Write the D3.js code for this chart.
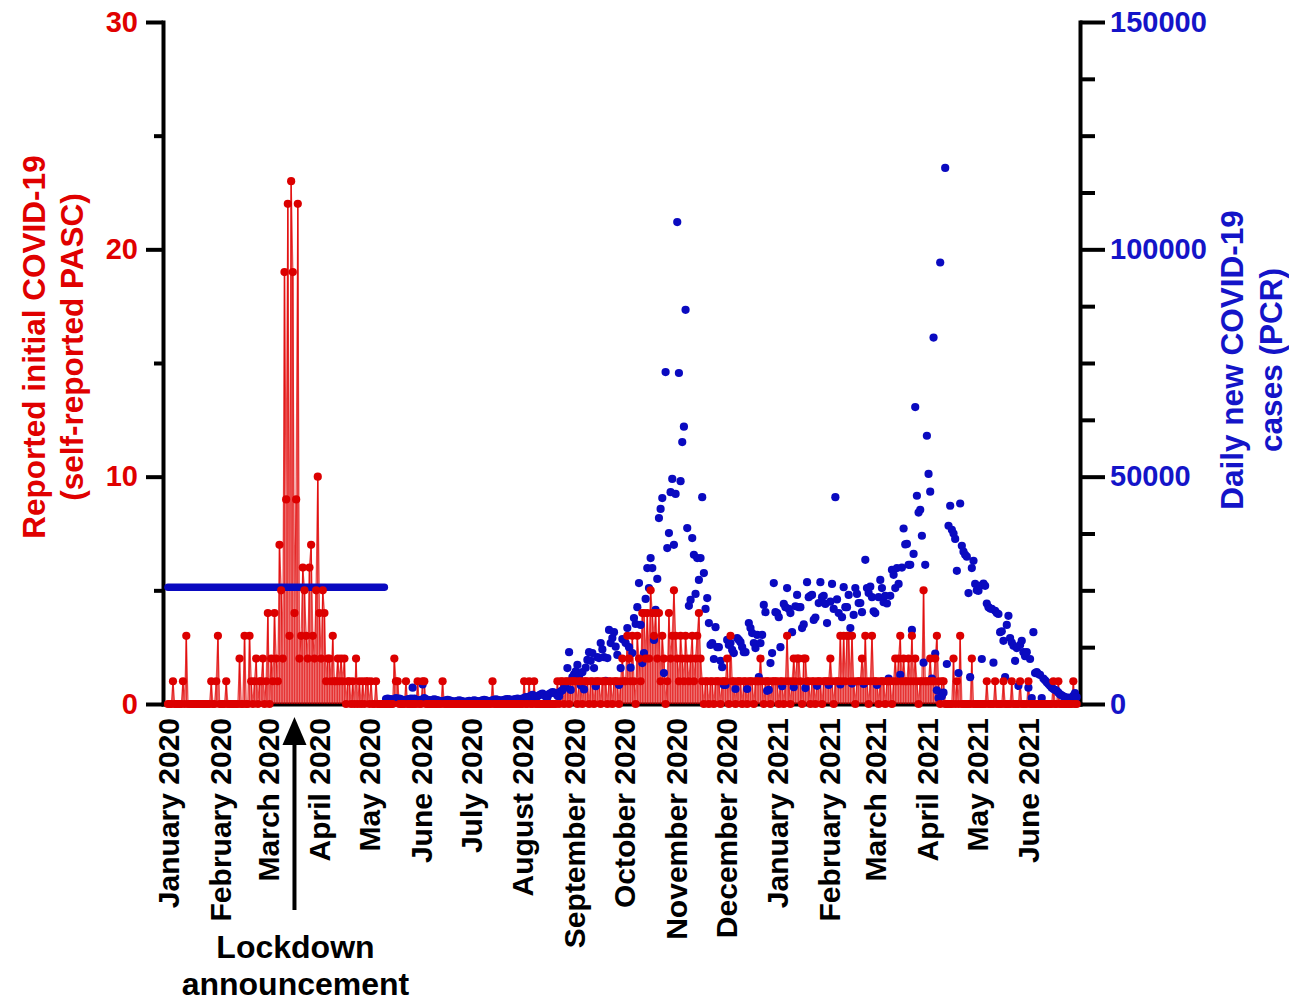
<!DOCTYPE html>
<html>
<head>
<meta charset="utf-8">
<script src="https://cdn.jsdelivr.net/npm/d3@7/dist/d3.min.js"></script>
<style>
  body { margin: 0; background: #fff; }
  text { font-family: "Liberation Sans", Arial, sans-serif; font-weight: bold; }
</style>
</head>
<body>
<div id="chart"></div>
<script>
// labels under the x axis, one per month
var monthLabels = ['January 2020', 'February 2020', 'March 2020', 'April 2020', 'May 2020',
  'June 2020', 'July 2020', 'August 2020', 'September 2020', 'October 2020', 'November 2020',
  'December 2020', 'January 2021', 'February 2021', 'March 2021', 'April 2021', 'May 2021', 'June 2021'];

var leftTicks = [0, 10, 20, 30];
var leftMinor = [5, 15, 25];
var rightTicks = [0, 50000, 100000, 150000];
var rightMinor = [12500, 25000, 37500, 62500, 75000, 87500, 112500, 125000, 137500];

// self-reported initial COVID-19 per day, one row per month from 1 Jan 2020
var redDaily = [
  [0,0,0,1,0, 0,0,0,0,1, 0,3,0,0,0, 0,0,0,0,0, 0,0,0,0,0, 0,1,0,0,1, 3],
  [0,0,0,0,1, 0,0,0,0,0, 0,0,2,0,0, 3,0,0,3,1, 0,1,2,0,1, 1,2,0,1],
  [4,0,2,1,4, 2,1,7,5,2, 19,9,22,3,23, 19,4,9,22,2, 3,6,5,3,2, 6,7,3,2,5, 10],
  [4,2,5,4,1, 2,2,1,3,1, 1,2,1,2,1, 2,0,1,1,0, 1,0,2,0,1, 0,1,0,1,1],
  [0,1,0,0,1, 0,0,0,0,0, 0,0,0,0,0, 2,1,1,0,0, 0,0,1,0,0, 0,0,0,0,1, 0],
  [0,1,1,0,0, 0,0,0,0,0, 0,0,0,1,0, 0,0,0,0,0, 0,0,0,0,0, 0,0,0,0,0],
  [0,0,0,0,0, 0,0,0,0,0, 0,0,0,1,0, 0,0,0,0,0, 0,0,0,0,0, 0,0,0,0,0, 0],
  [0,1,0,0,1, 0,0,1,0,0, 0,0,0,0,0, 0,0,0,0,0, 0,1,0,1,1, 0,1,1,0,1, 1],
  [1,1,0,1,1, 0,1,1,1,0, 1,1,0,1,1, 1,0,1,1,1, 0,1,1,0,1, 1,1,0,1,2],
  [1,1,3,2,1, 3,1,0,3,2, 1,4,4,2,4, 2,5,4,3,4, 2,4,1,3,2, 0,1,4,2,3, 5],
  [3,2,1,3,2, 1,3,2,1,2, 3,1,2,3,4, 2,1,0,1,1, 0,1,1,0,1, 1,1,0,1,1],
  [1,2,0,3,1, 1,0,1,1,1, 0,1,1,0,1, 1,1,0,1,1, 1,2,1,0,1, 1,1,0,1,1, 1],
  [1,0,1,1,0, 1,3,1,0,1, 2,1,2,2,1, 0,2,2,1,1, 0,1,1,0,1, 1,1,0,1,1, 1],
  [1,2,1,0,1, 1,1,3,1,3, 1,3,3,1,3, 1,0,1,1,1, 2,1,3,1,0, 1,3,1],
  [1,1,0,1,1, 1,0,1,1,1, 0,1,2,1,2, 3,1,2,1,1, 2,1,3,1,2, 1,0,1,1,5, 1],
  [1,1,2,1,1, 2,3,1,0,1, 1,0,0,0,0, 0,2,0,1,0, 3,0,0,0,0, 0,0,2,0,0],
  [0,0,0,0,0, 0,1,0,0,0, 0,1,0,0,0, 0,1,0,0,0, 0,1,0,0,0, 0,1,0,0,0, 0],
  [1,0,0,0,0, 0,0,0,0,0, 0,0,0,0,0, 1,0,0,1,0, 0,0,0,0,0, 0,0,1,0,0]
];

// daily new PCR cases, one row per month from 11 May 2020
var blueFirstDay = '2020-05-11';
var blueDaily = [
  [1100,1200,1000,1100,900, 800,1300,1100,1200,1000, 900,800,700,1000,1100, 1200,3600,1200,900,800, 700],
  [900,4300,1300,1000,900, 800,700,900,1000,900, 800,700,600,600,700, 800,900,800,700,600, 500,600,700,800,700, 600,500,500,600,700],
  [600,700,800,700,600, 500,700,800,900,800, 700,600,700,800,900, 1000,900,800,700,800, 900,1000,1100,1000,900, 800,1000,1100,1200,1100, 1000],
  [1200,1300,1500,1400,1600, 1800,2000,1500,1300,1700, 1900,2100,2300,2000,1600, 1500,2200,2400,2600,2500, 2300,1800,1700,2800,3000, 3500,4200,7900,11400,3100, 5900],
  [6500,7200,8600,6000,4100, 7000,3200,8000,9700,11400, 9500,11200,7900,3900,10300, 10100,13400,12000,10300,5100, 10100,16300,13400,14500,15800, 12600,10800,4200,7900,14300],
  [14100,13400,16700,12500,8000, 11200,18900,17600,21300,26600, 17400,9000,11200,23100,29900, 25500,32100,29900,14100,20700, 27500,40900,42900,45300,6800, 73000,34300,37600,46600,49500, 35000],
  [46200,106000,72800,49000,57600, 61000,86700,38700,21600,22900, 36500,32800,24200,32100,27300, 32100,45500,28800,20900,23300, 17800,13000,13400,9900,16900, 12500,12500,9500,8100,4200],
  [4200,14100,13000,13400,11900, 11200,3300,14500,14100,13600, 12500,11400,11400,3300,17800, 16700,15600,13400,12300,15200, 5900,13400,15200,21800,20200, 2900,3100,9000,11200,26600, 20200],
  [20000,19100,12500,3900,22000, 21300,25500,20900,20000,15800, 3700,21500,24000,21300,21300, 16700,17500,3500,26800,23500, 23800,24000,18500,19000,4000, 22200,26800,23500,23800,22000, 17800],
  [4200,22500,26400,20900,45500, 23000,20000,4300,19100,25700, 21300,21300,24000,16700,4500, 19600,25500,24200,22200,22200, 20200,4400,31700,25500,24400, 25800,23500,20400],
  [20000,4200,23500,27300,25500, 22400,23800,22100,5600,23800, 29500,28400,25500,29900,26400, 6400,30000,38600,35100,35200, 30600,30600,16300,33000,65300, 45800,42100,42700,37000,9100, 30600],
  [59000,50600,46700,5600,80600, 11100,3000,1300,97100,1700, 2500,117900,8800,39200,43600, 38300,37500,36300,29300,6800, 44100,34800,33500,32800,32400, 24400,5900,29900,31500,26400],
  [25000,24900,26000,9900,26500, 26000,22100,21300,21000,20900, 9100,20500,20000,19800,15800, 16000,13900,5900,17400,19400, 14500,13500,12800,9500,12300, 4000,13000,13900,11400,10500, 11400],
  [3600,9900,1300,15800,6800, 7000,6600,6400,1300,5600, 5200,4800,4400,4000,3600, 3300,3100,2900,2500,2100, 1900,1700,1500,1300,1400, 1200,1300,1800,2400,1500]
];

// flat PCR level shown before daily figures begin
var blueFlatDates = ['2020-01-01', '2020-05-10'];
var blueFlatValue = 25700;

var lockdownDate = '2020-03-17';

// Base
var width = 1289, height = 1003;
var plot = {left: 163, right: 1080, top: 22, bottom: 704};
var redColor = '#e00000', blueColor = '#1414c8';
var redDot = '#dc0000', blueDot = '#0a0ac0';
var dotR = 4.1;

var parse = d3.utcParse('%Y-%m-%d');

var svg = d3.select('#chart').append('svg')
    .attr('width', width)
    .attr('height', height)
    .style('background', '#fff');

var x = d3.scaleUtc()
    .domain([new Date(Date.UTC(2019, 11, 29)), new Date(Date.UTC(2021, 6, 2))])
    .range([plot.left, plot.right]);
var yLeft = d3.scaleLinear().domain([0, 30]).range([plot.bottom, plot.top]);
var yRight = d3.scaleLinear().domain([0, 150000]).range([plot.bottom, plot.top]);

var day0 = parse('2020-01-01');
var red = d3.merge(redDaily).map(function(v, i) {
  return {date: d3.utcDay.offset(day0, i), value: v};
});
var blueDay0 = parse(blueFirstDay);
var blue = d3.merge(blueDaily).map(function(v, i) {
  return {date: d3.utcDay.offset(blueDay0, i), value: v};
});
var monthStarts = d3.utcMonth.range(parse('2020-01-01'), parse('2021-07-01'));

function styleAxis(g, textColor) {
  g.attr('font-family', '"Liberation Sans", Arial, sans-serif')
   .attr('font-weight', 'bold')
   .attr('font-size', 29);
  g.select('.domain').attr('stroke', '#000').attr('stroke-width', 4).attr('stroke-linecap', 'square');
  g.selectAll('.tick line').attr('stroke', '#000').attr('stroke-width', 4);
  g.selectAll('.tick text').attr('fill', textColor);
}

// axes
svg.append('g')
    .attr('transform', 'translate(' + plot.left + ',0)')
    .call(d3.axisLeft(yLeft).tickValues(leftMinor).tickSize(9).tickSizeOuter(0).tickFormat(''))
    .call(function(g) { styleAxis(g, redColor); g.select('.domain').remove(); });
svg.append('g')
    .attr('transform', 'translate(' + plot.left + ',0)')
    .call(d3.axisLeft(yLeft).tickValues(leftTicks).tickSize(17).tickPadding(8).tickSizeOuter(0))
    .call(function(g) { styleAxis(g, redColor); });

svg.append('g')
    .attr('transform', 'translate(' + plot.right + ',0)')
    .call(d3.axisRight(yRight).tickValues(rightMinor).tickSize(15).tickSizeOuter(0).tickFormat(''))
    .call(function(g) { styleAxis(g, blueColor); g.select('.domain').remove(); });
svg.append('g')
    .attr('transform', 'translate(' + plot.right + ',0)')
    .call(d3.axisRight(yRight).tickValues(rightTicks).tickSize(25).tickPadding(5).tickSizeOuter(0).tickFormat(d3.format('d')))
    .call(function(g) { styleAxis(g, blueColor); });

svg.append('g')
    .attr('transform', 'translate(0,' + plot.bottom + ')')
    .call(d3.axisBottom(x).tickValues(monthStarts).tickSize(0).tickSizeOuter(0)
      .tickFormat(function(d, i) { return monthLabels[i]; }))
    .call(function(g) {
      styleAxis(g, '#000');
      g.attr('font-size', 30);
      g.selectAll('.tick text')
        .attr('transform', 'rotate(-90)')
        .attr('text-anchor', 'end')
        .attr('x', -14)
        .attr('y', 0)
        .attr('dy', '0.35em');
    });

// red spikes down to zero, plus the line joining the daily points
svg.append('g').selectAll('line')
    .data(red.filter(function(d) { return d.value > 0; }))
    .enter()
    .append('line')
    .attr('x1', function(d) { return x(d.date); })
    .attr('x2', function(d) { return x(d.date); })
    .attr('y1', yLeft(0))
    .attr('y2', function(d) { return yLeft(d.value); })
    .attr('stroke', redColor)
    .attr('stroke-width', 1.5)
    .attr('stroke-opacity', 0.8);

var redLine = d3.line()
    .x(function(d) { return x(d.date); })
    .y(function(d) { return yLeft(d.value); });
svg.append('path')
    .datum(red)
    .attr('d', redLine)
    .attr('fill', 'none')
    .attr('stroke', redColor)
    .attr('stroke-width', 1.3)
    .attr('stroke-opacity', 0.7);

// flat blue level
svg.append('line')
    .attr('x1', x(parse(blueFlatDates[0])))
    .attr('x2', x(parse(blueFlatDates[1])))
    .attr('y1', yRight(blueFlatValue))
    .attr('y2', yRight(blueFlatValue))
    .attr('stroke', blueDot)
    .attr('stroke-width', 7.5)
    .attr('stroke-linecap', 'round');

svg.append('g').selectAll('circle')
    .data(blue)
    .enter()
    .append('circle')
    .attr('cx', function(d) { return x(d.date); })
    .attr('cy', function(d) { return yRight(d.value); })
    .attr('r', dotR)
    .style('fill', blueDot);

svg.append('g').selectAll('circle')
    .data(red)
    .enter()
    .append('circle')
    .attr('cx', function(d) { return x(d.date); })
    .attr('cy', function(d) { return yLeft(d.value); })
    .attr('r', dotR)
    .style('fill', redDot);

// axis titles
function rotatedTitle(cx, cy, txt, color) {
  svg.append('text')
      .attr('transform', 'translate(' + cx + ',' + cy + ') rotate(-90)')
      .attr('text-anchor', 'middle')
      .attr('dy', '0.35em')
      .attr('fill', color)
      .style('font-size', '31.5px')
      .text(txt);
}
rotatedTitle(34, 347, 'Reported initial COVID-19', redColor);
rotatedTitle(72, 347, '(self-reported PASC)', redColor);
rotatedTitle(1232, 360, 'Daily new COVID-19', blueColor);
rotatedTitle(1271, 360, 'cases (PCR)', blueColor);

// lockdown arrow
var lx = x(parse(lockdownDate));
svg.append('line')
    .attr('x1', lx).attr('x2', lx)
    .attr('y1', 910).attr('y2', 738)
    .attr('stroke', '#000')
    .attr('stroke-width', 4);
svg.append('path')
    .attr('d', 'M' + lx + ',717L' + (lx - 12) + ',745L' + (lx + 12) + ',745Z')
    .style('fill', '#000');
svg.append('text')
    .attr('x', lx + 1).attr('y', 958)
    .attr('text-anchor', 'middle')
    .style('font-size', '32px')
    .text('Lockdown');
svg.append('text')
    .attr('x', lx + 1).attr('y', 995)
    .attr('text-anchor', 'middle')
    .style('font-size', '32px')
    .text('announcement');
</script>
</body>
</html>
